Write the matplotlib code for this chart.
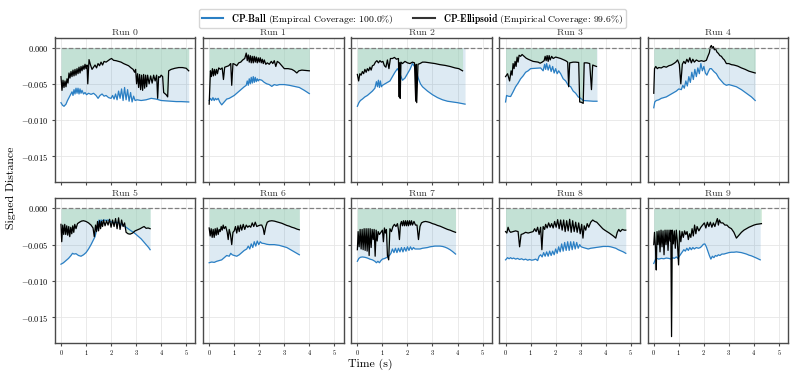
"""Signed distance of CP-Ball vs CP-Ellipsoid over ten runs (2 x 5 grid)."""
import matplotlib

matplotlib.use("Agg")
import matplotlib.pyplot as plt
import numpy as np

# Values are in units of 1e-3 (signed distance), times in seconds.
run0_ell_t = [0.00, 0.04, 0.08, 0.12, 0.16, 0.20, 0.24, 0.28, 0.32, 0.36, 0.40, 0.44, 0.48, 0.52, 0.56, 0.60, 0.64, 0.68, 0.72, 0.76, 0.80, 0.84, 0.88, 0.92, 0.96, 1.00, 1.04, 1.07, 1.12, 1.18, 1.24, 1.30, 1.36, 1.42, 1.48, 1.54, 1.60, 1.66, 1.72, 1.80, 1.88, 1.96, 2.02, 2.10, 2.20, 2.30, 2.40, 2.50, 2.60, 2.70, 2.80, 2.88, 2.94, 2.98, 3.02, 3.06, 3.10, 3.14, 3.18, 3.22, 3.26, 3.30, 3.34, 3.38, 3.42, 3.46, 3.52, 3.58, 3.64, 3.70, 3.76, 3.82, 3.86, 3.90, 3.95, 4.00, 4.06, 4.10, 4.20, 4.26, 4.30, 4.40, 4.55, 4.70, 4.85, 5.00, 5.10]
run0_ell_v = [-4.0, -5.9, -4.5, -5.5, -4.6, -5.4, -4.3, -4.9, -3.5, -4.2, -3.3, -4.0, -3.1, -3.9, -3.0, -3.8, -2.9, -3.6, -2.7, -3.5, -2.6, -3.2, -2.5, -3.0, -2.3, -2.9, -2.4, -5.0, -1.65, -2.4, -3.0, -2.7, -2.4, -2.8, -2.2, -2.5, -2.0, -2.4, -1.9, -2.0, -1.8, -1.6, -1.5, -1.75, -1.8, -1.9, -2.0, -2.2, -2.35, -2.5, -2.8, -3.0, -3.4, -3.0, -5.0, -3.6, -5.5, -3.7, -5.8, -3.8, -5.9, -3.7, -5.6, -3.8, -5.4, -3.8, -5.0, -3.9, -4.9, -3.8, -4.6, -3.8, -7.0, -4.0, -4.1, -3.8, -4.0, -6.2, -6.5, -6.8, -3.2, -3.0, -2.85, -2.75, -2.75, -2.85, -3.2]
run0_ball_t = [0.00, 0.06, 0.12, 0.20, 0.26, 0.32, 0.38, 0.44, 0.48, 0.52, 0.56, 0.60, 0.64, 0.68, 0.72, 0.76, 0.80, 0.84, 0.90, 0.96, 1.02, 1.10, 1.20, 1.30, 1.40, 1.48, 1.56, 1.64, 1.72, 1.80, 1.90, 2.00, 2.06, 2.12, 2.18, 2.24, 2.30, 2.36, 2.42, 2.48, 2.54, 2.60, 2.66, 2.72, 2.78, 2.84, 2.90, 2.96, 3.04, 3.20, 3.40, 3.60, 3.80, 4.00, 4.20, 4.40, 4.60, 4.80, 5.10]
run0_ball_v = [-7.6, -7.95, -8.1, -7.8, -7.3, -6.9, -6.5, -6.1, -6.6, -5.8, -6.4, -5.6, -6.3, -5.6, -6.4, -5.7, -6.3, -5.9, -6.4, -6.2, -6.5, -6.3, -6.45, -6.3, -6.6, -7.0, -6.6, -6.4, -6.7, -6.6, -6.9, -7.0, -6.6, -7.1, -6.4, -7.2, -6.0, -7.0, -5.7, -7.3, -5.5, -7.2, -5.8, -7.4, -6.2, -7.5, -6.7, -7.3, -7.2, -7.3, -7.2, -7.0, -7.1, -7.3, -7.35, -7.4, -7.45, -7.45, -7.5]

run1_ell_t = [0.00, 0.05, 0.09, 0.13, 0.17, 0.21, 0.25, 0.29, 0.33, 0.38, 0.45, 0.52, 0.57, 0.62, 0.70, 0.78, 0.86, 0.90, 0.95, 1.02, 1.10, 1.18, 1.26, 1.34, 1.42, 1.48, 1.52, 1.56, 1.60, 1.64, 1.68, 1.72, 1.76, 1.80, 1.84, 1.88, 1.92, 1.96, 2.00, 2.04, 2.08, 2.12, 2.16, 2.20, 2.26, 2.32, 2.40, 2.48, 2.54, 2.60, 2.66, 2.72, 2.80, 2.90, 3.00, 3.15, 3.30, 3.40, 3.50, 3.58, 3.70, 3.85, 4.00]
run1_ell_v = [-7.8, -3.2, -4.0, -2.9, -3.9, -3.0, -3.8, -3.0, -3.6, -2.8, -3.0, -2.8, -4.4, -2.7, -2.6, -2.5, -2.2, -5.2, -2.2, -2.3, -2.5, -2.1, -2.0, -1.7, -1.5, -0.75, -1.8, -1.0, -2.0, -1.1, -2.1, -1.2, -2.1, -1.2, -2.0, -1.3, -2.1, -1.4, -2.0, -1.4, -2.1, -1.6, -2.2, -1.7, -2.3, -2.1, -2.3, -1.9, -2.2, -1.8, -2.6, -1.9, -2.1, -2.5, -2.9, -2.9, -3.0, -3.2, -3.5, -3.2, -3.1, -3.15, -3.2]
run1_ball_t = [0.00, 0.05, 0.10, 0.15, 0.20, 0.25, 0.30, 0.36, 0.42, 0.50, 0.60, 0.70, 0.80, 0.90, 1.00, 1.10, 1.20, 1.30, 1.40, 1.48, 1.52, 1.56, 1.60, 1.64, 1.68, 1.72, 1.76, 1.80, 1.84, 1.88, 1.92, 1.96, 2.00, 2.10, 2.20, 2.30, 2.40, 2.50, 2.60, 2.70, 2.80, 3.00, 3.20, 3.40, 3.60, 3.80, 4.00]
run1_ball_v = [-7.3, -7.0, -7.3, -6.9, -7.3, -7.0, -7.2, -7.0, -7.5, -7.9, -7.5, -7.1, -7.0, -6.8, -6.6, -6.3, -6.0, -5.7, -5.4, -5.2, -4.6, -5.2, -4.3, -5.0, -4.1, -4.9, -4.0, -4.8, -4.1, -4.7, -4.3, -4.6, -4.4, -4.5, -4.8, -5.0, -5.1, -5.35, -5.1, -5.2, -5.1, -5.1, -5.2, -5.35, -5.5, -5.9, -6.35]

run2_ell_t = [0.00, 0.05, 0.10, 0.15, 0.20, 0.25, 0.30, 0.35, 0.40, 0.45, 0.50, 0.55, 0.60, 0.66, 0.72, 0.78, 0.84, 0.90, 0.96, 1.02, 1.08, 1.14, 1.20, 1.26, 1.32, 1.40, 1.48, 1.56, 1.64, 1.67, 1.69, 1.71, 1.74, 1.80, 1.90, 2.00, 2.10, 2.20, 2.28, 2.33, 2.35, 2.37, 2.42, 2.50, 2.60, 2.70, 2.90, 3.10, 3.30, 3.50, 3.70, 3.90, 4.05, 4.20]
run2_ell_v = [-3.7, -4.6, -3.6, -3.8, -3.3, -3.6, -3.0, -3.4, -2.9, -3.2, -2.7, -3.1, -2.5, -2.4, -2.0, -1.8, -2.1, -1.8, -2.0, -1.9, -2.5, -2.7, -1.7, -2.9, -1.5, -1.5, -1.35, -1.6, -1.5, -6.8, -2.1, -7.0, -2.0, -2.2, -1.9, -2.1, -2.2, -2.0, -2.1, -7.4, -2.3, -7.6, -2.3, -2.2, -2.0, -2.0, -2.1, -2.2, -2.35, -2.45, -2.6, -2.8, -2.9, -3.2]
run2_ball_t = [0.00, 0.06, 0.12, 0.20, 0.30, 0.40, 0.50, 0.60, 0.70, 0.76, 0.80, 0.84, 0.88, 0.92, 0.96, 1.00, 1.10, 1.20, 1.30, 1.40, 1.50, 1.60, 1.70, 1.80, 1.90, 2.00, 2.10, 2.20, 2.28, 2.36, 2.44, 2.52, 2.60, 2.80, 3.00, 3.20, 3.40, 3.60, 3.80, 4.00, 4.15, 4.30]
run2_ball_v = [-8.1, -7.6, -7.3, -7.1, -6.8, -6.6, -6.3, -6.0, -5.6, -4.7, -5.4, -4.5, -5.5, -4.6, -5.4, -5.2, -5.0, -4.8, -4.6, -4.0, -3.4, -2.9, -3.6, -4.5, -4.2, -3.6, -3.0, -2.2, -2.6, -3.4, -4.3, -5.0, -5.4, -6.0, -6.5, -6.9, -7.2, -7.4, -7.5, -7.6, -7.7, -7.8]

run3_ell_t = [0.00, 0.08, 0.16, 0.22, 0.26, 0.30, 0.34, 0.38, 0.42, 0.46, 0.50, 0.54, 0.60, 0.66, 0.74, 0.82, 0.90, 1.00, 1.10, 1.20, 1.30, 1.38, 1.46, 1.54, 1.58, 1.62, 1.66, 1.70, 1.74, 1.78, 1.84, 1.90, 2.00, 2.10, 2.20, 2.30, 2.40, 2.48, 2.52, 2.56, 2.70, 2.80, 2.92, 2.96, 3.03, 3.10, 3.14, 3.25, 3.36, 3.43, 3.48, 3.55, 3.63]
run3_ell_v = [-4.0, -3.6, -4.6, -3.2, -3.8, -2.2, -2.9, -1.9, -2.6, -1.3, -2.0, -1.05, -1.2, -0.95, -1.2, -1.45, -1.6, -1.75, -1.9, -1.95, -2.0, -2.15, -2.0, -1.8, -1.2, -1.8, -1.1, -1.9, -1.1, -1.7, -1.2, -1.5, -1.3, -1.4, -1.5, -1.65, -1.8, -2.0, -5.4, -2.1, -2.0, -2.0, -2.05, -7.5, -7.55, -7.7, -2.1, -2.1, -2.2, -5.8, -2.4, -2.5, -2.6]
run3_ball_t = [0.00, 0.04, 0.10, 0.20, 0.30, 0.40, 0.50, 0.60, 0.70, 0.80, 0.90, 1.00, 1.20, 1.40, 1.50, 1.56, 1.60, 1.64, 1.70, 1.76, 1.82, 1.88, 1.94, 2.00, 2.06, 2.12, 2.20, 2.30, 2.40, 2.50, 2.60, 2.70, 2.80, 2.90, 3.00, 3.10, 3.30, 3.50, 3.65]
run3_ball_v = [-7.5, -6.6, -6.7, -6.75, -6.1, -5.4, -4.9, -4.3, -3.9, -3.4, -3.2, -2.9, -2.85, -2.8, -3.2, -2.3, -3.0, -2.2, -3.1, -2.4, -3.3, -2.6, -3.5, -2.9, -3.6, -3.2, -3.6, -4.3, -4.6, -5.2, -5.4, -6.0, -6.3, -6.8, -7.0, -7.3, -7.35, -7.4, -7.4]

run4_ell_t = [0.00, 0.03, 0.08, 0.14, 0.20, 0.30, 0.40, 0.50, 0.60, 0.70, 0.80, 0.88, 0.95, 1.02, 1.08, 1.14, 1.20, 1.26, 1.32, 1.38, 1.44, 1.50, 1.56, 1.62, 1.70, 1.80, 1.90, 2.00, 2.10, 2.16, 2.22, 2.26, 2.30, 2.34, 2.38, 2.42, 2.46, 2.52, 2.58, 2.64, 2.70, 2.76, 2.82, 2.90, 3.00, 3.10, 3.20, 3.35, 3.50, 3.65, 3.80, 3.95, 4.05]
run4_ell_v = [-6.3, -2.9, -2.6, -2.9, -2.75, -2.8, -2.6, -2.7, -2.5, -2.4, -2.2, -2.0, -1.7, -2.3, -5.0, -2.3, -1.9, -2.2, -1.6, -2.0, -1.4, -2.1, -1.6, -2.0, -1.7, -1.9, -1.8, -1.9, -1.75, -1.2, -0.7, 0.1, 0.3, -0.1, 0.15, -0.3, -0.1, -0.6, -0.8, -1.1, -1.2, -1.5, -1.7, -2.2, -2.2, -2.35, -2.4, -2.55, -2.8, -3.0, -3.25, -3.4, -3.5]
run4_ball_t = [0.00, 0.04, 0.10, 0.20, 0.30, 0.40, 0.50, 0.60, 0.70, 0.80, 0.90, 1.00, 1.10, 1.16, 1.22, 1.28, 1.34, 1.40, 1.46, 1.52, 1.58, 1.64, 1.70, 1.76, 1.82, 1.88, 1.94, 2.00, 2.06, 2.12, 2.18, 2.24, 2.30, 2.40, 2.50, 2.60, 2.70, 2.80, 2.90, 3.00, 3.10, 3.30, 3.50, 3.70, 3.90, 4.05]
run4_ball_v = [-8.3, -7.5, -7.3, -7.2, -7.0, -6.9, -6.8, -6.6, -6.4, -6.2, -6.0, -5.7, -5.8, -5.2, -5.6, -4.6, -5.3, -4.0, -4.8, -3.4, -4.4, -3.0, -4.0, -2.8, -3.6, -2.2, -3.2, -2.6, -3.5, -3.8, -3.3, -2.9, -2.9, -3.3, -3.6, -4.2, -4.6, -5.0, -5.2, -5.1, -5.2, -5.4, -5.8, -6.3, -6.8, -7.3]

run5_ell_t = [0.00, 0.03, 0.07, 0.11, 0.15, 0.19, 0.23, 0.27, 0.31, 0.35, 0.39, 0.43, 0.47, 0.51, 0.55, 0.60, 0.66, 0.74, 0.82, 0.90, 1.00, 1.10, 1.20, 1.28, 1.33, 1.38, 1.42, 1.46, 1.50, 1.54, 1.58, 1.62, 1.66, 1.70, 1.76, 1.82, 1.88, 1.94, 2.00, 2.06, 2.12, 2.18, 2.24, 2.30, 2.36, 2.42, 2.48, 2.54, 2.60, 2.68, 2.76, 2.86, 2.96, 3.06, 3.16, 3.26, 3.32, 3.40, 3.48, 3.56]
run5_ell_v = [-2.2, -4.6, -2.3, -3.6, -2.2, -3.6, -2.4, -3.7, -2.5, -3.9, -2.6, -3.5, -2.4, -3.3, -2.2, -2.8, -2.1, -1.9, -1.75, -1.7, -1.8, -2.0, -2.3, -2.7, -3.9, -2.3, -3.2, -1.8, -3.1, -1.7, -2.8, -1.8, -2.5, -1.6, -2.4, -1.7, -2.3, -1.5, -2.6, -1.6, -2.5, -1.4, -2.8, -1.3, -2.9, -1.6, -2.5, -2.0, -3.3, -3.5, -3.55, -3.4, -3.1, -2.95, -2.8, -2.6, -2.5, -2.75, -2.7, -2.8]
run5_ball_t = [0.00, 0.10, 0.20, 0.30, 0.40, 0.46, 0.52, 0.60, 0.70, 0.80, 0.90, 1.00, 1.10, 1.20, 1.30, 1.36, 1.42, 1.48, 1.52, 1.56, 1.60, 1.66, 1.72, 1.80, 1.88, 1.96, 2.04, 2.12, 2.20, 2.30, 2.40, 2.50, 2.60, 2.70, 2.80, 2.90, 3.00, 3.10, 3.20, 3.30, 3.40, 3.50, 3.56]
run5_ball_v = [-7.7, -7.5, -7.2, -6.9, -6.5, -6.2, -6.3, -6.25, -6.5, -6.6, -6.4, -6.1, -5.6, -5.0, -4.3, -3.9, -3.0, -2.5, -1.6, -2.3, -1.6, -1.7, -1.6, -1.65, -1.6, -1.8, -1.9, -2.0, -1.9, -2.0, -2.2, -2.4, -2.6, -2.85, -3.1, -3.3, -3.6, -3.9, -4.2, -4.6, -5.0, -5.4, -5.7]

run6_ell_t = [0.00, 0.04, 0.08, 0.12, 0.16, 0.20, 0.24, 0.28, 0.32, 0.36, 0.40, 0.44, 0.48, 0.52, 0.56, 0.60, 0.66, 0.72, 0.76, 0.80, 0.85, 0.90, 0.95, 1.00, 1.05, 1.10, 1.15, 1.20, 1.25, 1.30, 1.36, 1.42, 1.48, 1.54, 1.60, 1.66, 1.72, 1.78, 1.84, 1.90, 1.96, 2.04, 2.10, 2.16, 2.20, 2.26, 2.32, 2.40, 2.50, 2.60, 2.70, 2.80, 2.90, 3.00, 3.10, 3.20, 3.30, 3.40, 3.50, 3.60]
run6_ell_v = [-2.7, -3.8, -2.8, -4.0, -2.9, -4.0, -2.8, -3.7, -2.7, -3.6, -2.9, -3.2, -2.5, -3.0, -2.3, -2.8, -2.5, -3.3, -4.3, -2.9, -3.6, -5.0, -3.3, -3.1, -2.5, -3.4, -2.4, -3.2, -2.3, -3.0, -2.2, -2.9, -2.3, -2.6, -2.4, -2.6, -2.0, -2.5, -1.9, -2.5, -2.4, -2.3, -2.3, -2.8, -3.6, -2.5, -1.9, -1.75, -1.7, -1.75, -1.85, -1.95, -2.05, -2.2, -2.35, -2.45, -2.6, -2.7, -2.85, -2.95]
run6_ball_t = [0.00, 0.10, 0.20, 0.30, 0.40, 0.50, 0.60, 0.70, 0.80, 0.86, 0.92, 1.00, 1.10, 1.20, 1.30, 1.40, 1.50, 1.56, 1.62, 1.68, 1.74, 1.80, 1.86, 1.92, 1.98, 2.04, 2.10, 2.20, 2.30, 2.40, 2.50, 2.60, 2.70, 2.80, 2.90, 3.00, 3.10, 3.20, 3.30, 3.40, 3.50, 3.60]
run6_ball_v = [-7.5, -7.4, -7.45, -7.3, -7.2, -7.1, -6.8, -6.5, -6.6, -6.2, -6.4, -6.5, -6.6, -6.4, -6.1, -5.8, -5.6, -5.2, -5.6, -4.9, -5.4, -4.6, -5.2, -4.5, -5.0, -4.6, -4.8, -4.85, -4.95, -5.0, -5.0, -5.0, -5.05, -5.1, -5.2, -5.3, -5.4, -5.6, -5.8, -6.0, -6.2, -6.4]

run7_ell_t = [0.00, 0.03, 0.07, 0.11, 0.15, 0.19, 0.23, 0.27, 0.31, 0.35, 0.39, 0.43, 0.47, 0.51, 0.55, 0.59, 0.63, 0.67, 0.71, 0.75, 0.79, 0.83, 0.88, 0.94, 1.00, 1.04, 1.08, 1.12, 1.16, 1.20, 1.25, 1.30, 1.36, 1.42, 1.48, 1.54, 1.60, 1.64, 1.68, 1.72, 1.76, 1.80, 1.84, 1.88, 1.92, 1.96, 2.00, 2.04, 2.08, 2.12, 2.16, 2.20, 2.26, 2.32, 2.38, 2.44, 2.50, 2.56, 2.64, 2.72, 2.80, 2.90, 3.00, 3.10, 3.20, 3.30, 3.40, 3.50, 3.60, 3.70, 3.80, 3.92]
run7_ell_v = [-5.7, -3.2, -5.3, -2.9, -5.6, -2.9, -5.7, -2.8, -5.8, -2.8, -5.9, -2.8, -6.5, -2.8, -5.4, -2.9, -4.3, -2.9, -6.6, -3.0, -4.5, -3.2, -3.6, -3.3, -3.0, -4.6, -2.7, -3.4, -2.9, -6.5, -7.1, -2.8, -3.2, -2.5, -2.2, -2.5, -2.1, -2.9, -4.3, -2.2, -1.8, -2.4, -1.7, -2.4, -1.7, -2.4, -1.7, -2.4, -1.7, -2.3, -1.7, -2.3, -1.8, -2.3, -2.3, -4.3, -2.5, -2.0, -1.85, -1.8, -1.85, -1.95, -2.1, -2.2, -2.35, -2.45, -2.6, -2.75, -2.9, -3.0, -3.15, -3.3]
run7_ball_t = [0.00, 0.06, 0.12, 0.20, 0.30, 0.40, 0.50, 0.60, 0.70, 0.76, 0.82, 0.88, 0.94, 1.00, 1.10, 1.20, 1.28, 1.34, 1.40, 1.46, 1.52, 1.58, 1.64, 1.70, 1.76, 1.82, 1.88, 1.94, 2.00, 2.06, 2.12, 2.18, 2.24, 2.30, 2.40, 2.50, 2.60, 2.70, 2.80, 2.90, 3.00, 3.10, 3.20, 3.30, 3.40, 3.50, 3.60, 3.70, 3.80, 3.92]
run7_ball_v = [-7.3, -6.9, -6.75, -6.7, -6.75, -6.85, -7.0, -7.1, -7.3, -7.5, -7.3, -7.5, -7.2, -7.0, -6.9, -6.7, -6.5, -6.2, -5.6, -6.1, -5.5, -6.1, -5.5, -6.0, -5.4, -6.0, -5.4, -5.9, -5.3, -5.8, -5.3, -5.7, -5.4, -5.6, -5.6, -5.6, -5.5, -5.45, -5.4, -5.3, -5.25, -5.2, -5.2, -5.2, -5.25, -5.35, -5.5, -5.7, -5.95, -6.3]

run8_ell_t = [0.00, 0.05, 0.10, 0.15, 0.20, 0.30, 0.40, 0.50, 0.56, 0.62, 0.70, 0.80, 0.90, 1.00, 1.10, 1.16, 1.22, 1.28, 1.34, 1.40, 1.45, 1.50, 1.56, 1.60, 1.66, 1.72, 1.78, 1.84, 1.90, 1.96, 2.02, 2.08, 2.14, 2.20, 2.26, 2.32, 2.38, 2.44, 2.50, 2.56, 2.62, 2.68, 2.74, 2.80, 2.86, 2.92, 2.98, 3.04, 3.09, 3.14, 3.20, 3.26, 3.32, 3.40, 3.48, 3.56, 3.64, 3.72, 3.80, 3.88, 3.96, 4.05, 4.14, 4.22, 4.30, 4.40, 4.46, 4.52, 4.58, 4.66, 4.74, 4.80]
run8_ell_v = [-3.2, -3.4, -2.6, -3.1, -3.3, -3.2, -3.1, -3.2, -5.3, -3.6, -3.5, -3.3, -3.4, -3.3, -3.2, -2.8, -3.2, -2.6, -3.6, -2.6, -5.7, -2.5, -2.9, -2.2, -2.7, -2.0, -2.6, -2.1, -2.7, -1.8, -2.6, -1.55, -2.8, -1.6, -3.0, -1.6, -3.2, -1.7, -3.1, -1.5, -3.3, -1.7, -3.2, -1.9, -3.3, -2.0, -3.5, -2.2, -4.1, -2.4, -3.0, -2.1, -2.6, -1.9, -1.6, -1.8, -1.9, -2.2, -2.5, -2.8, -3.0, -3.2, -3.4, -3.6, -3.8, -4.1, -3.3, -2.9, -3.2, -2.9, -3.0, -3.0]
run8_ball_t = [0.00, 0.08, 0.14, 0.20, 0.26, 0.32, 0.40, 0.48, 0.56, 0.64, 0.72, 0.80, 0.88, 0.96, 1.04, 1.12, 1.20, 1.28, 1.34, 1.40, 1.46, 1.52, 1.58, 1.64, 1.70, 1.76, 1.82, 1.88, 1.94, 2.00, 2.06, 2.12, 2.18, 2.24, 2.30, 2.36, 2.42, 2.48, 2.54, 2.60, 2.66, 2.72, 2.78, 2.84, 2.90, 2.96, 3.02, 3.10, 3.20, 3.30, 3.40, 3.50, 3.60, 3.70, 3.80, 3.90, 4.00, 4.10, 4.20, 4.30, 4.40, 4.50, 4.60, 4.70, 4.80]
run8_ball_v = [-7.1, -6.8, -6.95, -6.8, -6.95, -6.85, -7.0, -6.9, -7.05, -6.95, -7.1, -7.0, -7.15, -7.05, -7.15, -7.1, -7.0, -7.2, -6.6, -6.4, -6.7, -6.1, -6.6, -6.0, -6.6, -5.9, -6.5, -5.9, -6.4, -5.6, -6.2, -5.3, -6.0, -4.9, -5.9, -4.7, -5.8, -4.6, -5.8, -4.6, -5.7, -4.6, -5.6, -4.7, -5.5, -5.0, -5.3, -5.4, -5.5, -5.6, -5.5, -5.45, -5.4, -5.35, -5.3, -5.25, -5.25, -5.25, -5.3, -5.4, -5.5, -5.7, -5.85, -6.0, -6.2]

run9_ell_t = [0.00, 0.03, 0.07, 0.10, 0.13, 0.17, 0.21, 0.25, 0.29, 0.33, 0.37, 0.41, 0.45, 0.49, 0.53, 0.57, 0.61, 0.65, 0.68, 0.71, 0.74, 0.78, 0.82, 0.86, 0.90, 0.94, 0.99, 1.03, 1.08, 1.13, 1.18, 1.23, 1.28, 1.33, 1.38, 1.43, 1.48, 1.53, 1.58, 1.63, 1.68, 1.73, 1.80, 1.88, 1.95, 2.02, 2.08, 2.14, 2.20, 2.26, 2.32, 2.38, 2.44, 2.50, 2.54, 2.58, 2.62, 2.68, 2.76, 2.84, 2.92, 3.00, 3.10, 3.20, 3.30, 3.40, 3.50, 3.60, 3.70, 3.80, 3.90, 4.00, 4.10, 4.20, 4.30]
run9_ell_v = [-5.0, -3.3, -5.5, -8.5, -3.2, -5.0, -3.1, -6.0, -3.0, -5.3, -3.1, -6.4, -3.0, -5.0, -3.0, -5.8, -3.0, -4.5, -3.0, -17.7, -3.0, -4.9, -3.1, -5.5, -3.0, -4.4, -7.8, -3.1, -4.6, -3.2, -4.0, -3.1, -3.6, -3.2, -4.3, -3.5, -4.0, -2.8, -3.8, -2.3, -3.5, -2.5, -3.1, -2.6, -2.3, -2.0, -2.7, -1.9, -2.5, -1.9, -2.6, -2.0, -2.5, -1.8, -1.4, -2.3, -1.6, -2.0, -2.0, -2.3, -2.3, -2.6, -2.8, -3.3, -4.1, -3.7, -3.3, -3.0, -2.8, -2.6, -2.45, -2.3, -2.2, -2.15, -2.1]
run9_ball_t = [0.00, 0.06, 0.12, 0.20, 0.30, 0.40, 0.50, 0.60, 0.70, 0.76, 0.82, 0.90, 0.96, 1.02, 1.08, 1.14, 1.20, 1.26, 1.32, 1.38, 1.44, 1.50, 1.56, 1.62, 1.70, 1.78, 1.86, 1.92, 1.98, 2.04, 2.10, 2.16, 2.22, 2.28, 2.34, 2.40, 2.46, 2.52, 2.58, 2.64, 2.72, 2.80, 2.90, 3.00, 3.10, 3.20, 3.30, 3.40, 3.50, 3.60, 3.70, 3.80, 3.90, 4.00, 4.10, 4.25]
run9_ball_v = [-7.6, -7.1, -6.9, -7.0, -6.9, -6.95, -6.85, -6.9, -7.0, -6.8, -6.9, -6.7, -6.9, -6.6, -6.3, -6.0, -5.7, -5.9, -5.5, -5.8, -5.4, -5.7, -5.4, -5.6, -5.4, -5.5, -5.4, -5.2, -4.95, -4.9, -5.3, -5.9, -6.5, -7.0, -6.6, -6.8, -6.5, -6.6, -6.4, -6.5, -6.3, -6.3, -6.2, -6.1, -6.05, -6.05, -6.0, -6.05, -6.1, -6.2, -6.3, -6.45, -6.55, -6.7, -6.85, -7.1]

run_titles = [f"Run {i}" for i in range(10)]
ball_label = r"$\mathbf{CP}$-$\mathbf{Ball}$ (Empircal Coverage: 100.0%)"
ell_label = r"$\mathbf{CP}$-$\mathbf{Ellipsoid}$ (Empirical Coverage: 99.6%)"

runs = [
    (run0_ball_t, run0_ball_v, run0_ell_t, run0_ell_v),
    (run1_ball_t, run1_ball_v, run1_ell_t, run1_ell_v),
    (run2_ball_t, run2_ball_v, run2_ell_t, run2_ell_v),
    (run3_ball_t, run3_ball_v, run3_ell_t, run3_ell_v),
    (run4_ball_t, run4_ball_v, run4_ell_t, run4_ell_v),
    (run5_ball_t, run5_ball_v, run5_ell_t, run5_ell_v),
    (run6_ball_t, run6_ball_v, run6_ell_t, run6_ell_v),
    (run7_ball_t, run7_ball_v, run7_ell_t, run7_ell_v),
    (run8_ball_t, run8_ball_v, run8_ell_t, run8_ell_v),
    (run9_ball_t, run9_ball_v, run9_ell_t, run9_ell_v),
]

BALL_COLOR = "#2a7fc4"
ELL_COLOR = "black"
SPINE_COLOR = "#4a4a4a"

plt.rcParams.update({
    "font.family": "serif",
    "font.serif": ["cmr10"],
    "mathtext.fontset": "cm",
    "axes.formatter.use_mathtext": True,
    "axes.unicode_minus": True,
})

fig, axes = plt.subplots(2, 5, figsize=(7.93, 3.75), dpi=100, sharex=True, sharey=True)
fig.subplots_adjust(left=0.069, right=0.994, top=0.9, bottom=0.085,
                    wspace=0.053, hspace=0.11)

for i, ax in enumerate(axes.flat):
    bt, bv, et, ev = runs[i]
    bt = np.asarray(bt)
    et = np.asarray(et)
    bv = np.asarray(bv) * 1e-3
    ev = np.asarray(ev) * 1e-3

    ax.fill_between(bt, bv, 0, color="#1f77b4", alpha=0.15, linewidth=0, zorder=1)
    ax.fill_between(et, ev, 0, color="#abd9b8", alpha=0.5, linewidth=0, zorder=2)
    ax.plot(bt, bv, color=BALL_COLOR, linewidth=0.9, zorder=3)
    ax.plot(et, ev, color=ELL_COLOR, linewidth=0.9, zorder=4)
    ax.axhline(0, color="gray", linestyle="--", linewidth=0.9, zorder=5)

    ax.set_title(run_titles[i], fontsize=7, pad=2, color="#333333")
    ax.grid(True, color="#e6e6e6", linewidth=0.6)
    ax.set_axisbelow(True)
    for sp in ax.spines.values():
        sp.set_color(SPINE_COLOR)
        sp.set_linewidth(1.0)
    ax.tick_params(axis="both", direction="out", color=SPINE_COLOR, length=2.5, width=0.8)
    ax.tick_params(axis="x", labelsize=4.5, pad=1)
    ax.tick_params(axis="y", labelsize=6, pad=2)

ax0 = axes[0, 0]
ax0.set_xlim(-0.25, 5.37)
ax0.set_ylim(-0.0186, 0.0014)
ax0.set_xticks([0, 1, 2, 3, 4, 5])
ax0.set_yticks([0.0, -0.005, -0.010, -0.015])
ax0.yaxis.set_major_formatter(matplotlib.ticker.FormatStrFormatter("$%.3f$"))

handles = [
    plt.Line2D([], [], color=BALL_COLOR, linewidth=1.5),
    plt.Line2D([], [], color="#333333", linewidth=1.5),
]
leg = fig.legend(handles, [ball_label, ell_label], loc="upper center",
                 bbox_to_anchor=(0.52, 0.99), ncol=2, fontsize=7, frameon=True,
                 edgecolor="#cccccc", fancybox=True, handlelength=2.2,
                 columnspacing=2.0, borderpad=0.3, handletextpad=0.8)
leg.set_zorder(0)

fig.text(0.467, 0.012, "Time (s)", ha="center", va="bottom", fontsize=8.5)
fig.text(0.008, 0.50, "Signed Distance", ha="left", va="center",
         rotation=90, fontsize=8.5)

fig.savefig("out.png", dpi=100)
